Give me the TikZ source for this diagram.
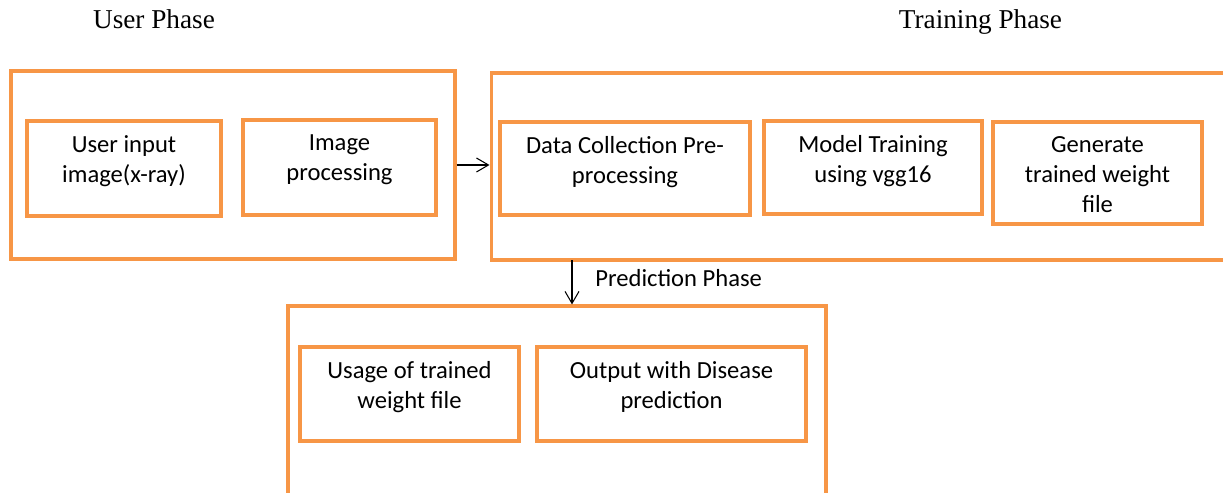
\documentclass[tikz,border=0pt]{standalone}
\usepackage{fontspec}
\setmainfont{Carlito}
\newfontfamily\titlefont{Liberation Serif}
\usetikzlibrary{arrows.meta}
\definecolor{boxorange}{RGB}{247,150,70}
\begin{document}
\begin{tikzpicture}[x=0.02cm,y=-0.02cm,
		phase/.style={draw=boxorange,line width=1.8pt,inner sep=0pt},
		stepbox/.style={draw=boxorange,line width=1.8pt,inner sep=0pt},
		boxtext/.style={anchor=north,align=center,inner sep=0pt,yshift=-3.2mm,font=\fontsize{14}{17}\selectfont},
		title/.style={anchor=base,font=\titlefont\fontsize{15.5}{18}\selectfont},
		flow/.style={-{Straight Barb[length=2.4mm,width=2.8mm]},line width=0.6pt}]
		\useasboundingbox (0,0) rectangle (1223,493);
		\clip (0,0) rectangle (1223,493);
		
		\node[title] (usertitle) at (154,29) {User Phase};
		\node[title] (traintitle) at (980.5,29) {Training Phase};
		
		\node[phase,minimum width=8.88cm,minimum height=3.76cm] (user) at (233,165) {};
		\node[stepbox,minimum width=3.88cm,minimum height=1.9cm,label={[boxtext]north:{User input\\image(x-ray)}}] (uin) at (124,168.5) {};
		\node[stepbox,minimum width=3.86cm,minimum height=1.9cm,label={[boxtext]north:{Image\\processing}}] (uproc) at (339.5,167.5) {};
		
		\node[phase,minimum width=14.98cm,minimum height=3.74cm] (train) at (865.5,166.5) {};
		\node[stepbox,minimum width=5cm,minimum height=1.86cm,label={[boxtext]north:{Data Collection Pre-\\processing}}] (dcol) at (625,168.5) {};
		\node[stepbox,minimum width=4.36cm,minimum height=1.86cm,label={[boxtext]north:{Model Training\\using vgg16}}] (mtrain) at (873,167.5) {};
		\node[stepbox,minimum width=4.18cm,minimum height=2.04cm,label={[boxtext]north:{Generate\\trained weight\\file}}] (gen) at (1097.5,173) {};
		
		\node[phase,minimum width=10.76cm,minimum height=4.08cm] (pred) at (557,408) {};
		\node[stepbox,minimum width=4.38cm,minimum height=1.88cm,label={[boxtext]north:{Usage of trained\\weight file}}] (usage) at (409.5,394) {};
		\node[stepbox,minimum width=5.38cm,minimum height=1.88cm,label={[boxtext]north:{Output with Disease\\prediction}}] (outp) at (671.5,394) {};
		
		\draw[flow](user.east)--(user.east -| train.west);
		\coordinate (drop) at (572,260);
		\draw[flow](drop)--(drop |- pred.north);
		\node[anchor=base west,inner sep=0pt,font=\fontsize{14}{17}\selectfont] (predlabel) at (595,286) {Prediction Phase};
		
	\end{tikzpicture}
\end{document}
